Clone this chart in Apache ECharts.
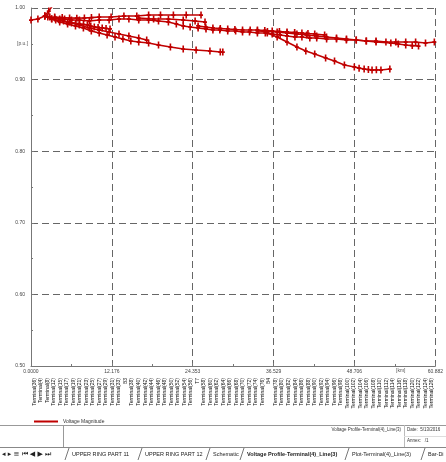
<!DOCTYPE html>
<html>
<head>
<meta charset="utf-8">
<script src="https://cdn.jsdelivr.net/npm/echarts@6/dist/echarts.min.js"></script>
<style>html,body{margin:0;padding:0;background:#fff;}#c{width:446px;height:462px;}</style>
</head>
<body>
<div id="c"></div>
<script>
// ---- data (distance in km, voltage in p.u.) ----
const xTickLabels = ['0.0000', '12.176', '24.353', '36.529', '48.706', '60.882'];
const yTickLabels = ['0.50', '0.60', '0.70', '0.80', '0.90', '1.00'];
const trunkMain = [[0,0.9832],[1.04,0.9846],[2.08,0.9888],[2.83,0.9874],[3.57,0.9860],[4.32,0.9846],[5.06,0.9846],[6.10,0.9832],[7.29,0.9832],[8.78,0.9818],[10.27,0.9832],[11.76,0.9832],[13.25,0.9846],[14.74,0.9846],[16.22,0.9832],[17.71,0.9832],[19.20,0.9818],[20.69,0.9804],[21.88,0.9777],[22.92,0.9749],[23.96,0.9735],[25.16,0.9721],[26.35,0.9707],[27.39,0.9693],[28.43,0.9693],[29.62,0.9679],[30.81,0.9679],[31.85,0.9665],[32.90,0.9665],[34.09,0.9651],[35.28,0.9651],[36.32,0.9637],[37.51,0.9623],[38.55,0.9609],[39.74,0.9595],[40.79,0.9595],[41.98,0.9581],[43.02,0.9581],[44.51,0.9567],[46.00,0.9567],[47.49,0.9553],[48.97,0.9553],[50.46,0.9539],[51.95,0.9539],[53.44,0.9525],[54.93,0.9525],[56.42,0.9525],[57.91,0.9525],[59.40,0.9511],[60.73,0.9525]];
const upperBranchA = [[3.57,0.9874],[4.70,0.9866],[5.81,0.9860],[6.90,0.9858],[8.04,0.9860],[9.10,0.9866],[10.27,0.9874],[12.06,0.9874],[13.99,0.9888],[15.93,0.9888],[17.71,0.9902],[19.50,0.9902],[21.44,0.9902],[23.37,0.9902],[25.60,0.9902]];
const upperBranchB = [[16.22,0.9860],[18.46,0.9846],[20.69,0.9846],[22.92,0.9832],[24.71,0.9818],[26.20,0.9804]];
const lowerBranchA = [[2.08,0.9888],[3.13,0.9846],[4.32,0.9804],[5.51,0.9777],[6.70,0.9749],[7.89,0.9721],[9.08,0.9679],[10.27,0.9651],[11.46,0.9623],[12.65,0.9595],[13.84,0.9567],[15.03,0.9539],[16.22,0.9525],[17.71,0.9511],[19.20,0.9483],[20.99,0.9455],[22.92,0.9427],[24.86,0.9413],[26.94,0.9399],[28.50,0.9385],[28.88,0.9385]];
const lowerBranchB = [[5.81,0.9804],[7.29,0.9763],[8.78,0.9721],[10.27,0.9693],[11.76,0.9665],[13.25,0.9637],[14.74,0.9609],[16.22,0.9581],[17.42,0.9553]];
const clusterBranch = [[2.53,0.9874],[3.10,0.9850],[3.72,0.9832],[4.30,0.9826],[4.91,0.9818],[5.50,0.9800],[6.10,0.9791],[6.70,0.9785],[7.29,0.9777],[7.90,0.9770],[8.48,0.9763],[9.00,0.9748],[9.53,0.9735],[10.10,0.9728],[10.72,0.9721],[11.30,0.9714],[11.90,0.9707]];
const risingBranch = [[2.08,0.9888],[2.68,0.9958],[3.42,1.0056]];
const rightLowerBranch = [[35.58,0.9651],[37.06,0.9595],[38.55,0.9525],[40.04,0.9455],[41.38,0.9399],[42.72,0.9358],[44.36,0.9302],[45.70,0.9260],[47.19,0.9204],[48.68,0.9176],[49.40,0.9160],[50.16,0.9148],[50.80,0.9140],[51.35,0.9134],[52.00,0.9136],[52.69,0.9134],[54.03,0.9148]];
const rightUpperBranch = [[34.09,0.9679],[35.60,0.9672],[37.06,0.9665],[38.55,0.9650],[40.04,0.9637],[41.50,0.9622],[43.02,0.9609],[44.50,0.9595],[46.00,0.9581],[47.50,0.9567],[48.97,0.9553],[50.50,0.9539],[51.95,0.9525],[54.18,0.9511],[55.30,0.9497],[56.42,0.9483],[57.40,0.9475],[58.35,0.9469]];
const midBranch = [[25.16,0.9749],[26.30,0.9735],[27.39,0.9721],[28.50,0.9714],[29.62,0.9707],[30.70,0.9700],[31.85,0.9693],[33.00,0.9693],[34.09,0.9693],[35.20,0.9686],[36.32,0.9679],[37.40,0.9672],[38.55,0.9665],[39.70,0.9658],[40.79,0.9651],[41.70,0.9644],[42.72,0.9637],[44.21,0.9623]];
const terminalLabels = ['Terminal(36)','Terminal(4)','Terminal(8)','Terminal(12)','Terminal(15)','Terminal(17)','Terminal(19)','Terminal(21)','Terminal(23)','Terminal(25)','Terminal(27)','Terminal(29)','Terminal(31)','Terminal(33)','B3','Terminal(38)','Terminal(40)','Terminal(42)','Terminal(44)','Terminal(46)','Terminal(48)','Terminal(50)','Terminal(52)','Terminal(54)','Terminal(56)','T7','Terminal(58)','Terminal(60)','Terminal(62)','Terminal(64)','Terminal(66)','Terminal(68)','Terminal(70)','Terminal(72)','Terminal(74)','Terminal(76)','B4','Terminal(78)','Terminal(80)','Terminal(82)','Terminal(84)','Terminal(86)','Terminal(88)','Terminal(90)','Terminal(92)','Terminal(94)','Terminal(96)','Terminal(98)','Terminal(100)','Terminal(102)','Terminal(104)','Terminal(106)','Terminal(108)','Terminal(110)','Terminal(112)','Terminal(114)','Terminal(116)','Terminal(118)','Terminal(120)','Terminal(122)','Terminal(124)','Terminal(126)'];
const seriesName = 'Voltage Magnitude';
const tabs = ['UPPER RING PART 11', 'UPPER RING PART 12', 'Schematic', 'Voltage Profile-Terminal(4)_Line(3)', 'Plot-Terminal(4)_Line(3)', 'Bar-Di'];

const xMax = 60.882, xInt = xMax / 5;
const RED = '#c00000';
const FONT = 'Liberation Sans, Arial, sans-serif';
const plus = 'path://M1.5,0H3.5V3H5V5H3.5V8H1.5V5H0V3H1.5Z';

function mk(data) {
  return {
    name: seriesName, type: 'line', data: data, xAxisIndex: 0, yAxisIndex: 0,
    symbol: plus, symbolSize: [4, 7], showSymbol: true,
    lineStyle: { color: RED, width: 1.6 }, itemStyle: { color: RED },
    clip: true, animation: false, z: 3
  };
}

const chart = echarts.init(document.getElementById('c'), null, { renderer: 'canvas' });
const tabX = [72, 145, 213, 247, 352, 428];
const graphics = [
  { type: 'text', left: 17, top: 41, style: { text: '[p.u.]', fill: '#555', font: '5px ' + FONT } },
  { type: 'text', left: 396, top: 368, style: { text: '[km]', fill: '#555', font: '5px ' + FONT } },
  { type: 'line', shape: { x1: 0, y1: 425.5, x2: 446, y2: 425.5 }, style: { stroke: '#999', lineWidth: 1 } },
  { type: 'line', shape: { x1: 63.5, y1: 425, x2: 63.5, y2: 448 }, style: { stroke: '#999', lineWidth: 1 } },
  { type: 'line', shape: { x1: 404.5, y1: 425, x2: 404.5, y2: 447 }, style: { stroke: '#bbb', lineWidth: 1 } },
  { type: 'line', shape: { x1: 404, y1: 436.5, x2: 446, y2: 436.5 }, style: { stroke: '#ddd', lineWidth: 1 } },
  { type: 'text', x: 401, y: 430, style: { text: 'Voltage Profile-Terminal(4)_Line(3)', align: 'right', verticalAlign: 'middle', fill: '#333', font: '4.5px ' + FONT } },
  { type: 'text', x: 407, y: 430, style: { text: 'Date:  5/13/2016', verticalAlign: 'middle', fill: '#333', font: '4.5px ' + FONT } },
  { type: 'text', x: 407, y: 441, style: { text: 'Annex:   /1', verticalAlign: 'middle', fill: '#333', font: '4.5px ' + FONT } },
  { type: 'line', shape: { x1: 0, y1: 447.5, x2: 446, y2: 447.5 }, style: { stroke: '#888', lineWidth: 1 } },
  { type: 'text', x: 2, y: 454, style: { text: '\u25C2 \u25B8 \u2261 \u23EE \u25C0 \u25B6 \u23ED', verticalAlign: 'middle', fill: '#222', font: '7px DejaVu Sans' } }
];
tabs.forEach(function (t, i) {
  const x = tabX[i];
  graphics.push({ type: 'line', shape: { x1: x - 7, y1: 460, x2: x - 3, y2: 448 }, style: { stroke: '#555', lineWidth: 0.8 } });
  graphics.push({ type: 'text', x: x, y: 454, style: { text: t, verticalAlign: 'middle', fill: '#222', font: (i === 3 ? 'bold ' : '') + '5.5px ' + FONT } });
});

chart.setOption({
  animation: false,
  backgroundColor: '#fff',
  grid: { left: 31, top: 8, width: 409, height: 358, containLabel: false },
  legend: {
    data: [{ name: seriesName, icon: 'rect' }], left: 29, top: 414, itemWidth: 24, itemHeight: 2, itemGap: 4,
    textStyle: { fontSize: 5, color: '#333', fontFamily: FONT }
  },
  xAxis: [{
    type: 'value', min: 0, max: xMax, interval: xInt,
    axisLine: { lineStyle: { color: '#777', width: 1 } },
    axisTick: { inside: true, length: 3, lineStyle: { color: '#777' } },
    minorTick: { show: true, splitNumber: 2, length: 2, lineStyle: { color: '#777' } },
    splitLine: { show: true, lineStyle: { color: '#666', type: [7, 4], width: 1 } },
    axisLabel: {
      fontSize: 5, color: '#444', margin: 3, fontFamily: FONT, showMinLabel: true, showMaxLabel: true,
      formatter: function (v) { return xTickLabels[Math.round(v / xInt)]; }
    }
  }, {
    type: 'category', position: 'bottom', offset: 0, data: terminalLabels,
    axisLine: { show: false }, axisTick: { show: false }, splitLine: { show: false },
    axisLabel: { interval: 0, rotate: 90, fontSize: 5, color: '#111', margin: 12, fontFamily: FONT }
  }],
  yAxis: {
    type: 'value', min: 0.5, max: 1.0, interval: 0.1,
    axisLine: { show: true, lineStyle: { color: '#777', width: 1 } },
    axisTick: { show: true, inside: true, length: 3, lineStyle: { color: '#777' } },
    minorTick: { show: true, splitNumber: 2, length: 2, lineStyle: { color: '#777' } },
    splitLine: { show: true, lineStyle: { color: '#666', type: [7, 4], width: 1 } },
    axisLabel: {
      fontSize: 5, color: '#444', margin: 6, fontFamily: FONT,
      formatter: function (v) { return yTickLabels[Math.round((v - 0.5) / 0.1)]; }
    }
  },
  series: [trunkMain, upperBranchA, upperBranchB, lowerBranchA, lowerBranchB, clusterBranch, risingBranch, rightLowerBranch, rightUpperBranch, midBranch].map(mk),
  graphic: graphics
});
</script>
</body>
</html>
